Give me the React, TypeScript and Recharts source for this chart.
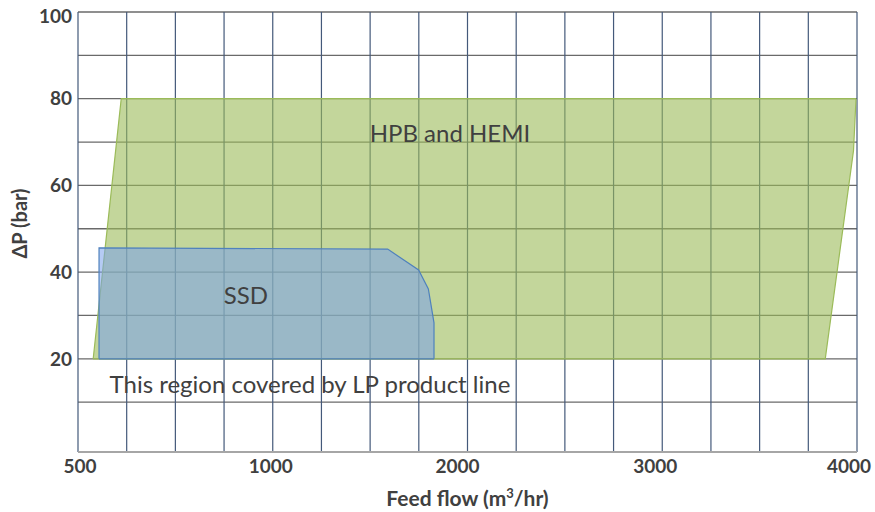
import { Area, CartesianGrid, ComposedChart, ReferenceDot, XAxis, YAxis } from 'recharts'

// feed flow labels under the chart; each step spans four grid columns
const FLOW_TICKS = [500, 1000, 2000, 3000, 4000]
const COLUMNS_PER_TICK = 4
const DP_TICKS = [10, 20, 30, 40, 50, 60, 70, 80, 90, 100]
const DP_LABELLED = [20, 40, 60, 80, 100]

// HPB and HEMI envelope, left to right: flow (m3/hr), lower and upper dP (bar)
const HPB_FLOW = [539, 611, 3837, 3982, 3995]
const HPB_LOW = [20, 20, 20, 68, 80]
const HPB_HIGH = [20, 80, 80, 80, 80]

// SSD envelope
const SSD_FLOW = [554, 554, 1590, 1749, 1799, 1828, 1828]
const SSD_LOW = [20, 20, 20, 20, 20, 20, 20]
const SSD_HIGH = [20, 45.6, 45.3, 40.5, 36.1, 28.3, 20]

const NOTE_TEXT = ['HPB and HEMI', 'SSD', 'This region covered by LP product line']
const NOTE_FLOW = [1910, 931, 1191]
const NOTE_DP = [72, 34.5, 14]

const INK = '#404040'

// the flow axis is drawn piecewise: equal width between each labelled value
function flowToPos(flow: number) {
  const last = FLOW_TICKS.length - 2
  for (let i = 0; i <= last; i++) {
    const a = FLOW_TICKS[i]
    const b = FLOW_TICKS[i + 1]
    if (flow <= b || i === last) return (i + (flow - a) / (b - a)) * COLUMNS_PER_TICK
  }
  return 0
}

const columnCount = (FLOW_TICKS.length - 1) * COLUMNS_PER_TICK
const columnTicks = Array.from({ length: columnCount + 1 }, (_, i) => i)

const hpbData = HPB_FLOW.map((f, i) => ({ x: flowToPos(f), dp: [HPB_LOW[i], HPB_HIGH[i]] }))
const ssdData = SSD_FLOW.map((f, i) => ({ x: flowToPos(f), dp: [SSD_LOW[i], SSD_HIGH[i]] }))

function FlowTick(props: any) {
  const { x, y, payload } = props
  const i = payload.value / COLUMNS_PER_TICK
  if (!Number.isInteger(i)) return <g />
  // labels in the original sit a little left of their grid line
  const nudge = [2, -2, -10, -7, -8][i] ?? 0
  return (
    <text x={x + nudge} y={y} dy="0.71em" textAnchor="middle" fill={INK} fontSize={19} fontWeight={700}>
      {FLOW_TICKS[i]}
    </text>
  )
}

function DpTick(props: any) {
  const { x, y, payload } = props
  if (!DP_LABELLED.includes(payload.value)) return <g />
  // top label is pushed down so it stays inside the page
  const shift = payload.value === 100 ? 4 : 0
  return (
    <text x={x} y={y + shift} dy="0.355em" textAnchor="end" fill={INK} fontSize={19} fontWeight={700}>
      {payload.value}
    </text>
  )
}

function FlowTitle(props: any) {
  const vb = props.viewBox
  return (
    <text x={vb.x + vb.width / 2} y={vb.y + 54} textAnchor="middle" fill={INK} fontSize={21} fontWeight={700}>
      Feed flow (m<tspan dy={-8} fontSize={13}>3</tspan>
      <tspan dy={8}>/hr)</tspan>
    </text>
  )
}

function DpTitle(props: any) {
  const vb = props.viewBox
  const cx = 27
  const cy = vb.y + vb.height / 2 - 8.5
  return (
    <text x={cx} y={cy} transform={`rotate(-90 ${cx} ${cy})`} textAnchor="middle" fill={INK} fontSize={20} fontWeight={700}>
      ΔP (bar)
    </text>
  )
}

export default function App() {
  return (
    <div style={{ position: 'absolute', left: 0, top: 0, width: 875, height: 512, fontFamily: 'Lato, sans-serif' }}>
      <ComposedChart width={875} height={512} margin={{ top: 12, right: 18, bottom: 0, left: 0 }}>
        <CartesianGrid vertical={false} stroke="#6a6a6a" strokeWidth={1.3} />
        <CartesianGrid horizontal={false} stroke="#44597a" strokeWidth={1.2} />
        <XAxis
          type="number"
          dataKey="x"
          domain={[0, columnCount]}
          ticks={columnTicks}
          interval={0}
          height={60}
          axisLine={{ stroke: '#a6a6a6', strokeWidth: 2 }}
          tickLine={false}
          tick={FlowTick}
          label={FlowTitle}
        />
        <YAxis
          type="number"
          domain={[-1.5, 100]}
          ticks={DP_TICKS}
          interval={0}
          width={78}
          axisLine={false}
          tickLine={false}
          tickSize={4}
          tickMargin={2}
          tick={DpTick}
          label={DpTitle}
        />
        <Area
          data={hpbData}
          dataKey="dp"
          type="linear"
          stroke="#9bbb59"
          strokeWidth={1.2}
          fill="#9bbb59"
          fillOpacity={0.6}
          dot={false}
          activeDot={false}
          isAnimationActive={false}
        />
        <Area
          data={ssdData}
          dataKey="dp"
          type="linear"
          stroke="#4f81bd"
          strokeWidth={1.2}
          fill="rgb(120,160,235)"
          fillOpacity={0.55}
          dot={false}
          activeDot={false}
          isAnimationActive={false}
        />
        {NOTE_TEXT.map((t, i) => (
          <ReferenceDot
            key={t}
            x={flowToPos(NOTE_FLOW[i])}
            y={NOTE_DP[i]}
            r={0}
            label={{ value: t, position: 'center', fill: INK, fontSize: 24 }}
          />
        ))}
      </ComposedChart>
    </div>
  )
}
